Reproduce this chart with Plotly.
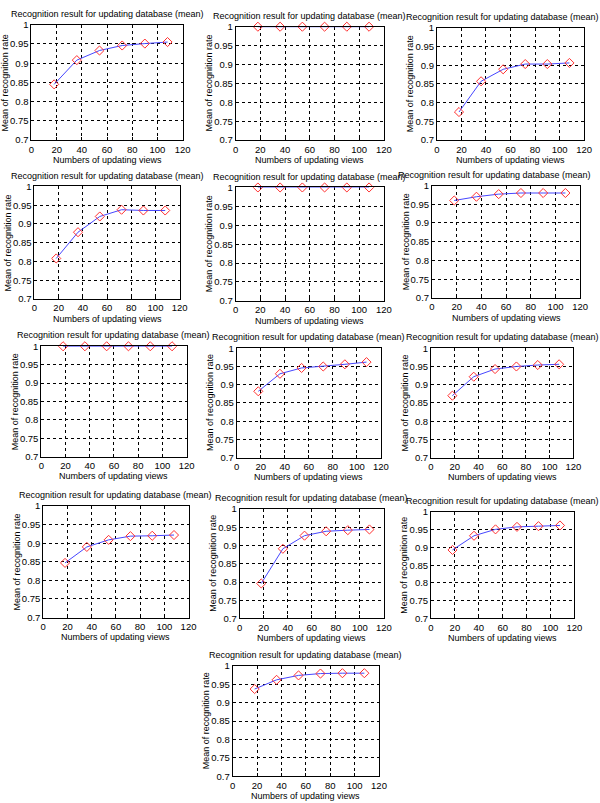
import plotly.graph_objects as go

# ---- data ----
views = [18, 36, 54, 72, 90, 108]
rate_a = [0.845, 0.908, 0.933, 0.946, 0.951, 0.955]
rate_b = [1.0, 1.0, 1.0, 1.0, 1.0, 1.0]
rate_c = [0.775, 0.857, 0.889, 0.903, 0.903, 0.906]
rate_d = [0.808, 0.878, 0.920, 0.938, 0.936, 0.936]
rate_e = [1.0, 1.0, 1.0, 1.0, 1.0, 1.0]
rate_f = [0.960, 0.970, 0.977, 0.980, 0.980, 0.980]
rate_g = [1.0, 1.0, 1.0, 1.0, 1.0, 1.0]
rate_h = [0.882, 0.930, 0.946, 0.950, 0.956, 0.962]
rate_i = [0.870, 0.922, 0.943, 0.950, 0.954, 0.956]
rate_j = [0.847, 0.890, 0.909, 0.919, 0.920, 0.922]
rate_k = [0.796, 0.891, 0.927, 0.939, 0.942, 0.944]
rate_l = [0.893, 0.933, 0.951, 0.958, 0.960, 0.962]
rate_m = [0.937, 0.962, 0.974, 0.979, 0.980, 0.980]
series = [rate_a, rate_b, rate_c, rate_d, rate_e, rate_f, rate_g,
          rate_h, rate_i, rate_j, rate_k, rate_l, rate_m]

x_ticks = [0, 20, 40, 60, 80, 100, 120]
y_ticks = [0.7, 0.75, 0.8, 0.85, 0.9, 0.95, 1]
title_text = "Recognition result for updating database (mean)"
xlabel_text = "Numbers of updating views"
ylabel_text = "Mean of recognition rate"

# ---- layout (pixel boxes: left, top, right, bottom) ----
W, H = 600, 803
boxes = [
    (29, 19, 183, 136), (237, 21, 388, 136), (442, 22, 592, 136),
    (32, 183, 180, 297), (237, 184, 388, 299), (437, 182, 588, 296),
    (39, 345, 187, 457), (238, 347, 385, 458), (436, 347, 581, 458),
    (41, 507, 189, 620), (241, 510, 388, 621), (436, 513, 582, 621),
    (234, 669, 383, 781),
]
title_shift = [0, 0, -8, 0, 0, -12, 0, 0, 0, 0, 0, 0, 0]

FONT = "Liberation Sans Narrow, Liberation Sans, Arial, sans-serif"
fig = go.Figure()
annotations = []
layout = dict(width=W, height=H, margin=dict(l=0, r=0, t=0, b=0),
              paper_bgcolor="white", plot_bgcolor="white", showlegend=False,
              font=dict(family=FONT, size=9, color="black"))

for i, (vals, (l, t, r, b), sh) in enumerate(zip(series, boxes, title_shift), start=1):
    xa = "x" if i == 1 else f"x{i}"
    ya = "y" if i == 1 else f"y{i}"
    fig.add_trace(go.Scatter(
        x=views, y=vals, xaxis=xa, yaxis=ya, mode="lines+markers",
        line=dict(color="#4646ff", width=1),
        marker=dict(symbol="diamond-open", size=7, color="#ff3030",
                    line=dict(width=1)),
        cliponaxis=False))
    common = dict(showline=True, linecolor="black", linewidth=1, mirror=True,
                  ticks="inside", ticklen=3, tickcolor="black",
                  showgrid=True, gridcolor="black", gridwidth=1, griddash="dot",
                  zeroline=False, tickfont=dict(family=FONT, size=9.5, color="black"))
    layout["xaxis" if i == 1 else f"xaxis{i}"] = dict(
        domain=[l / W, r / W], range=[0, 120], tickvals=x_ticks,
        anchor=ya, **common)
    layout["yaxis" if i == 1 else f"yaxis{i}"] = dict(
        domain=[1 - b / H, 1 - t / H], range=[0.7, 1], tickvals=y_ticks,
        ticktext=[f"{v:g}" for v in y_ticks], anchor=xa, **common)
    cx = (l + r) / 2
    annotations.append(dict(text=title_text, x=(cx + sh) / W, y=1 - (t - 11) / H,
                            xref="paper", yref="paper", showarrow=False,
                            xanchor="center", yanchor="middle",
                            font=dict(family=FONT, size=9, color="black")))
    annotations.append(dict(text=xlabel_text, x=cx / W, y=1 - (b + 20) / H,
                            xref="paper", yref="paper", showarrow=False,
                            xanchor="center", yanchor="middle",
                            font=dict(family=FONT, size=9, color="black")))
    annotations.append(dict(text=ylabel_text, x=(l - 27) / W, y=1 - ((t + b) / 2) / H,
                            xref="paper", yref="paper", showarrow=False,
                            textangle=-90, xanchor="center", yanchor="middle",
                            font=dict(family=FONT, size=9, color="black")))

layout["annotations"] = annotations
fig.update_layout(**layout)
fig.write_html("out.html")
